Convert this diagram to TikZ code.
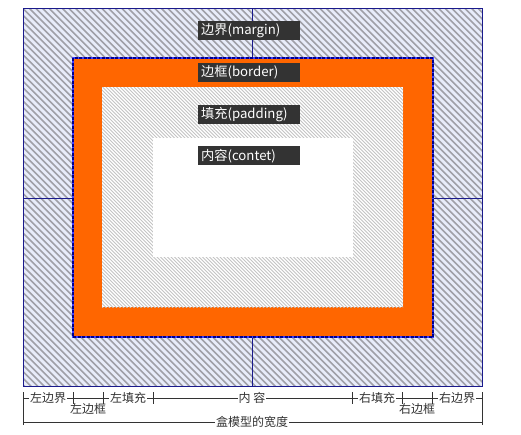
\documentclass[tikz,border=0pt]{standalone}
\usepackage{fontspec}
\setmainfont{Noto Sans CJK SC}
\definecolor{marginbg}{HTML}{E8ECFA}
\definecolor{stripe}{HTML}{A0A0A8}
\definecolor{pstripe}{HTML}{C4C4C4}
\definecolor{orng}{HTML}{FF6600}
\definecolor{navy}{HTML}{1A1A8C}
\definecolor{labbg}{HTML}{333333}
\definecolor{dimline}{HTML}{333333}
\tikzset{
  lab/.style={fill=labbg, text=white, anchor=north west, minimum width=102pt, minimum height=19pt, inner sep=0pt, text width=100pt, align=left, font=\fontsize{13.2}{14}\selectfont},
  dimtext/.style={fill=white, inner sep=1pt, font=\fontsize{12}{13}\selectfont, text=dimline},
  dim/.style={draw=dimline, line width=0.9pt},
  guide/.style={draw=navy, line width=0.8pt}
}
\begin{document}
\begin{tikzpicture}[x=1pt,y=-1pt]
\useasboundingbox (0,0) rectangle (521,434);
\fill[white] (0,0) rectangle (521,434);
% margin area
\fill[marginbg] (23,8) rectangle (482,386);
\begin{scope}
  \clip (23,8) rectangle (482,386);
  \foreach \i in {-400,-393.4,...,490} {
    \draw[stripe, line width=1.6pt] (\i,8) -- ++(390,390);
  }
\end{scope}
\draw[guide] (252,8) -- (252,386);
\draw[guide] (23,198) -- (482,198);
\draw[navy, line width=1pt] (23,8) rectangle (482,386);
% border
\fill[orng] (73,58) rectangle (433,337);
\draw[blue!75!white, line width=2pt] (73,58) rectangle (433,337);
\draw[blue!55!black, line width=2pt, dash pattern=on 3pt off 1.5pt] (73,58) rectangle (433,337);
% padding
\fill[white] (102,87) rectangle (403,307);
\begin{scope}
  \clip (102,87) rectangle (403,307);
  \foreach \i in {-230,-226.5,...,410} {
    \draw[pstripe, line width=0.9pt] (\i,87) -- ++(225,225);
  }
\end{scope}
% content
\fill[white] (153,138) rectangle (353,257);
% labels
\node[lab] (lmargin) at (198,21) {\hspace{2pt}边界(margin)};
\node[lab] (lborder) at (198,63) {\hspace{2pt}边框(border)};
\node[lab] (lpadding) at (198,105) {\hspace{2pt}填充(padding)};
\node[lab] (lcontent) at (198,146) {\hspace{2pt}内容(contet)};
% dimension lines
\draw[dim] (23,398) -- (482,398);
\draw[dim] (23,392) -- (23,425);
\draw[dim] (482,392) -- (482,425);
\foreach \x in {73,103,153,352,402,432} {
  \draw[dim] (\x,392) -- (\x,404);
}
\draw[dim] (23,422) -- (482,422);
\node[dimtext] (t1) at (48,398) {左边界};
\node[dimtext, fill=none] (t2) at (88,409) {左边框};
\node[dimtext] (t3) at (128,398) {左填充};
\node[dimtext] (t4) at (252,398) {内\ 容};
\node[dimtext] (t5) at (377,398) {右填充};
\node[dimtext, fill=none] (t6) at (417,409) {右边框};
\node[dimtext] (t7) at (457,398) {右边界};
\node[dimtext] (t8) at (252,422) {盒模型的宽度};
\end{tikzpicture}
\end{document}
